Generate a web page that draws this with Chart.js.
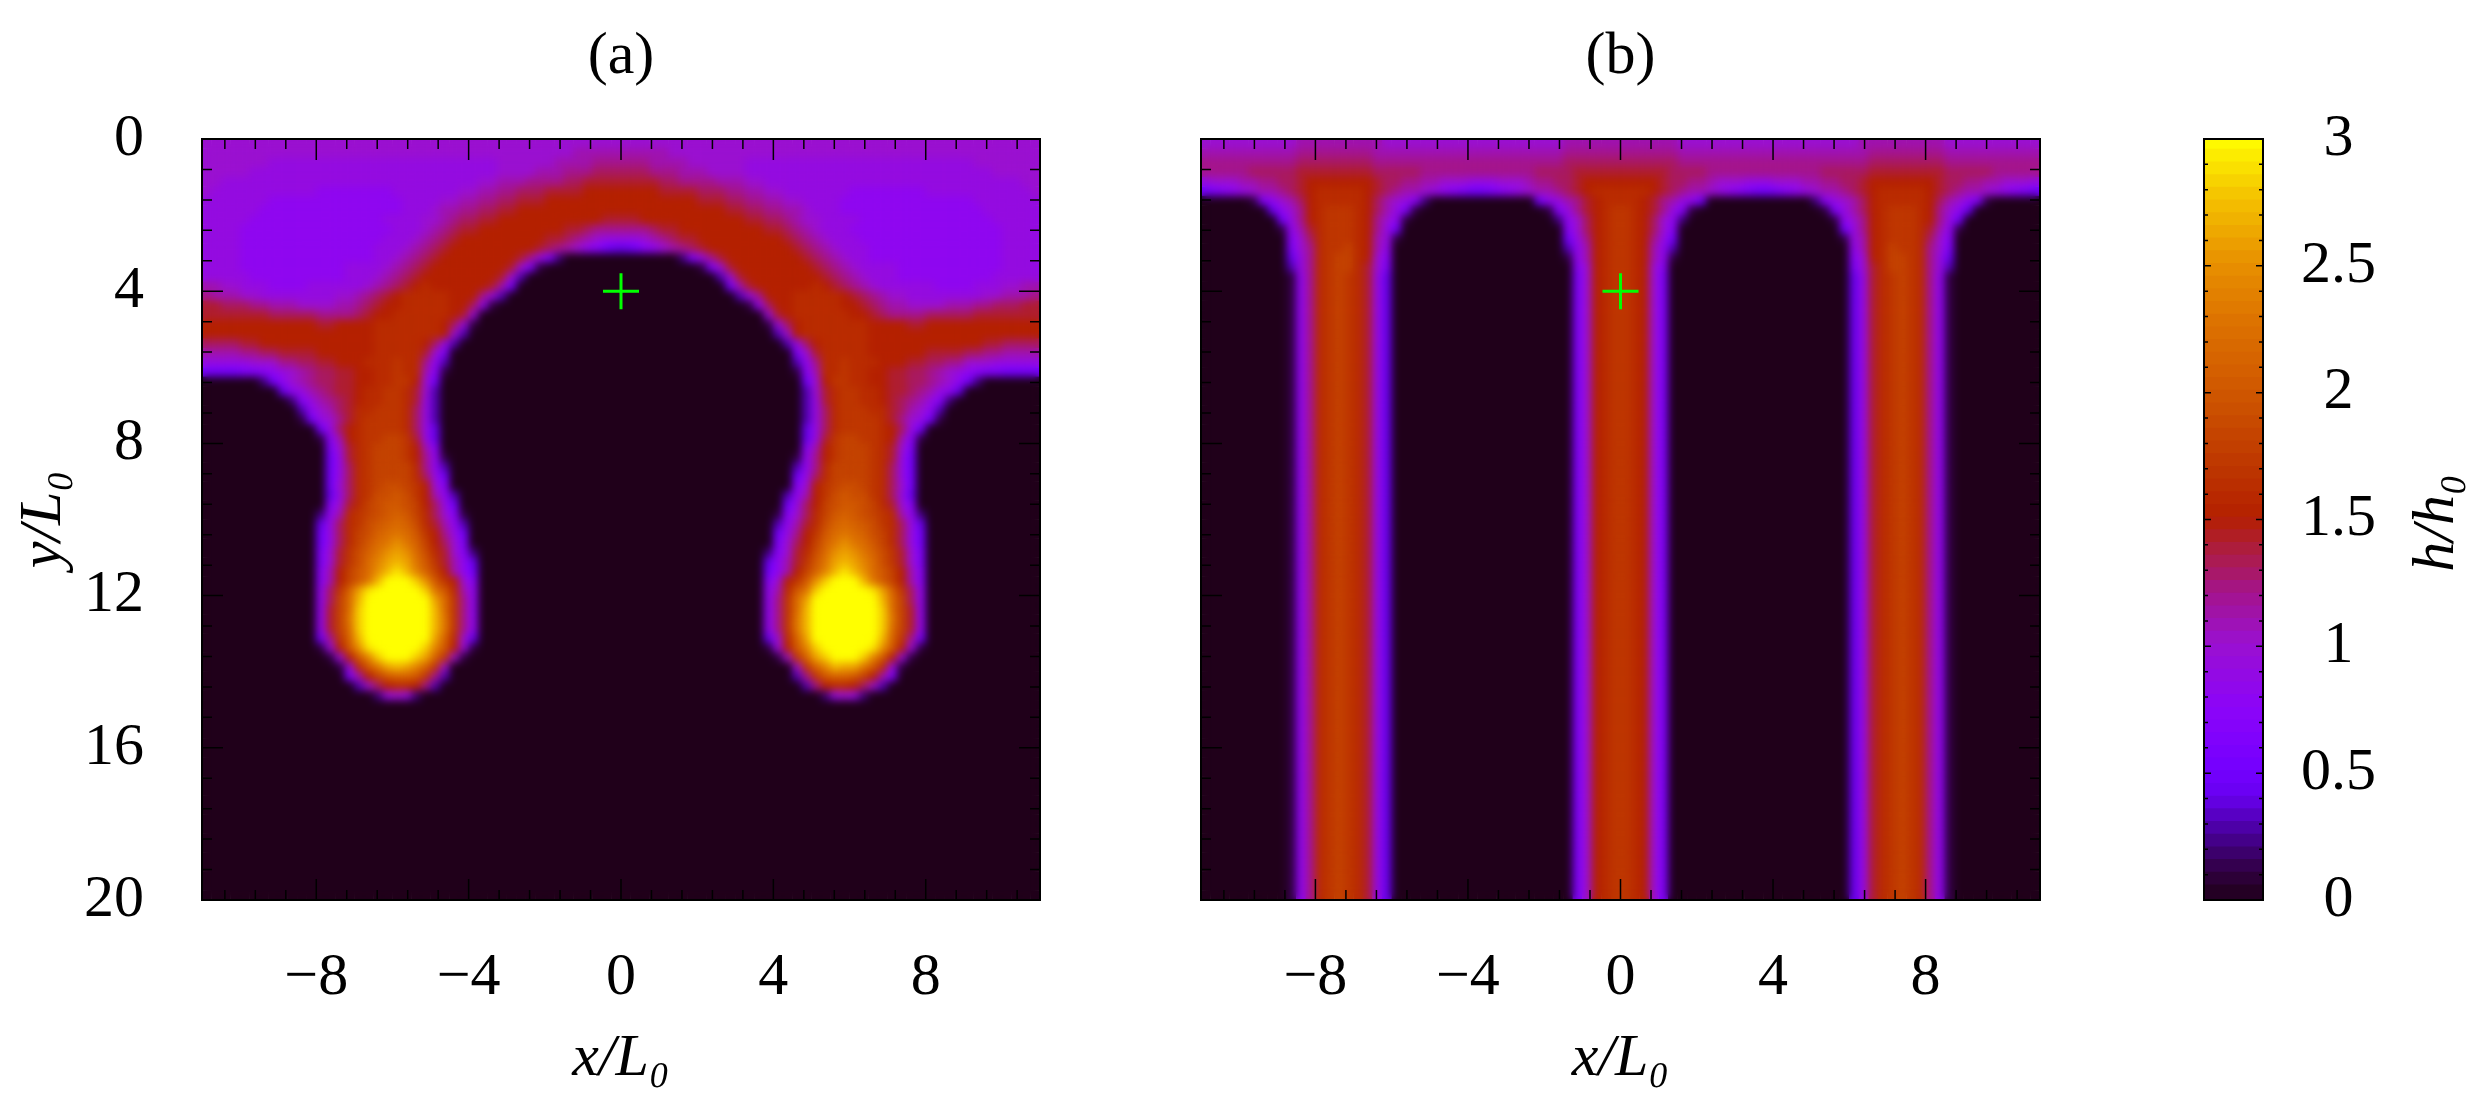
<!DOCTYPE html>
<html>
<head>
<meta charset="utf-8">
<title>h/h0</title>
<script src="https://cdn.jsdelivr.net/npm/chart.js@4"></script>
<style>
    html, body { margin: 0; padding: 0; background: #fff; overflow: hidden; }
    canvas { position: absolute; top: 0; }
</style>
</head>
<body>
<canvas id="panelA" width="1130" height="1105" style="left:0"></canvas>
<canvas id="panelB" width="1000" height="1105" style="left:1130px"></canvas>
<canvas id="colorBar" width="355" height="1105" style="left:2130px"></canvas>
<script>
// axis ticks
const xTickValues = [-8, -4, 0, 4, 8];
const xMinorTicks = [-10.4, -9.6, -8.8, -7.2, -6.4, -5.6, -4.8, -3.2, -2.4, -1.6, -0.8, 0.8, 1.6, 2.4, 3.2, 4.8, 5.6, 6.4, 7.2, 8.8, 9.6, 10.4];
const yTickValues = [0, 4, 8, 12, 16, 20];
const yMinorTicks = [0.8, 1.6, 2.4, 3.2, 4.8, 5.6, 6.4, 7.2, 8.8, 9.6, 10.4, 11.2, 12.8, 13.6, 14.4, 15.2, 16.8, 17.6, 18.4, 19.2];
const barTickValues = [0, 0.5, 1, 1.5, 2, 2.5, 3];
const barMinorTicks = [0.1, 0.2, 0.3, 0.4, 0.6, 0.7, 0.8, 0.9, 1.1, 1.2, 1.3, 1.4, 1.6, 1.7, 1.8, 1.9, 2.1, 2.2, 2.3, 2.4, 2.6, 2.7, 2.8, 2.9];
const barLevels = [0, 0.05, 0.1, 0.15, 0.2, 0.25, 0.3, 0.35, 0.4, 0.45, 0.5, 0.55, 0.6, 0.65, 0.7, 0.75, 0.8, 0.85, 0.9, 0.95,
    1, 1.05, 1.1, 1.15, 1.2, 1.25, 1.3, 1.35, 1.4, 1.45, 1.5, 1.55, 1.6, 1.65, 1.7, 1.75, 1.8, 1.85, 1.9, 1.95,
    2, 2.05, 2.1, 2.15, 2.2, 2.25, 2.3, 2.35, 2.4, 2.45, 2.5, 2.55, 2.6, 2.65, 2.7, 2.75, 2.8, 2.85, 2.9, 2.95];

// colour map, h value and colour
const paletteValues = [0, 0.1, 0.25, 0.4, 0.5, 0.75, 1, 1.2, 1.35, 1.5, 1.75, 2, 2.25, 2.5, 2.75, 3];
const paletteColors = ['#20001a', '#300040', '#480098', '#6800f0', '#7400ff', '#8c04f8', '#9a10d0', '#a4148c', '#ac1c48', '#b42000', '#c03c00', '#d05800', '#dc7000', '#e89000', '#f4c000', '#ffff00'];

// h/h0, one row per 0.25 of y, one character per 0.25 of x
// characters count in tenths: 0-9 then a=1.0, f=1.5, k=2.0, p=2.5, u=3.0
const emptyRow = '0000 0000 0000 0000 0000 0000 0000 0000 0000 0000 0000 0000 0000 0000 0000 0000 0000 0000 0000 0000 0000 0000';
const rowsA = [
    'aaaa aaaa aaaa aaaa aaaa aaaa aaaa aaaa aaaa aaaa aaaa aaaa aaaa aaaa aaaa aaaa aaaa aaaa aaaa aaaa aaaa aaaa',
    'aaaa aaaa aaaa aaaa aaaa aaaa aaaa aaaa aaaa aaab bbbb bbbb baaa aaaa aaaa aaaa aaaa aaaa aaaa aaaa aaaa aaaa',
    'aaaa aaa9 9999 9999 9999 9999 9999 999a aaaa abbb bccc cccb bbba aaaa a999 9999 9999 9999 9999 9999 9aaa aaaa',
    'aaaa a999 9999 9999 9999 9999 9999 999a aaab bbcc cddd dddc ccbb baaa a999 9999 9999 9999 9999 9999 999a aaaa',
    'aa99 9999 9999 9999 9999 9999 9999 9aab bbcc ccdd eeee eeee ddcc ccbb baa9 9999 9999 9999 9999 9999 9999 99aa',
    'a999 9999 9999 8888 8888 9999 999a abbc cddd eeee ffff ffff eeee dddc cbba a999 9999 8888 8888 9999 9999 999a',
    '9999 9998 8888 8888 8888 8999 9aab bccd deee ffff ffff ffff ffff eeed dccb baa9 9998 8888 8888 8888 8999 9999',
    '9999 9988 8888 8888 8888 8999 abbc cdde efff ffff ffff ffff ffff fffe eddc cbba 9998 8888 8888 8888 8899 9999',
    '9999 9888 8888 8888 8889 999a abcd deef ffff ffff ffee eeff ffff ffff feed dcba a999 9888 8888 8888 8889 9999',
    '9999 8888 8888 8888 8888 999a bcde efff ffff ffee dccc cccd eeff ffff fffe edcb a999 8888 8888 8888 8888 9999',
    '9999 8888 8888 8888 8889 99ab cdef ffff ffff eedc ba99 99ab cdee ffff ffff fedc ba99 9888 8888 8888 8888 9999',
    '9999 8888 8888 8888 8899 9abc deff ffff fffe dcba 8754 4578 abcd efff ffff ffed cba9 9988 8888 8888 8888 9999',
    '9999 8888 8888 8888 8899 abcd efff ffff fec9 6200 0000 0000 0026 9cef ffff fffe dcba 9988 8888 8888 8888 9999',
    '9999 8888 8888 8889 999a bcde ffff ffff ea61 0000 0000 0000 0000 16ae ffff ffff edcb a999 9888 8888 8888 9999',
    '9999 9888 8888 8889 99ab cdef ffff fffe a300 0000 0000 0000 0000 003a efff ffff fedc ba99 9888 8888 8889 9999',
    'bbaa 9998 8889 9999 9abc defg ffff ffeb 5000 0000 0000 0000 0000 0005 beff ffff gfed cba9 9999 9888 8999 aabb',
    'cbbb aa99 9999 99aa bcde fggg ggff fc93 0000 0000 0000 0000 0000 0000 39cf ffgg gggf edcb aa99 9999 99aa bbbc',
    'eedd dccb bbaa aabb cdef fggg ggff d810 0000 0000 0000 0000 0000 0000 018d ffgg gggf fedc bbaa aabb bccd ddee',
    'eeee eeed dddd cccc deff gggg ggfe 9000 0000 0000 0000 0000 0000 0000 0009 efgg gggg ffed cccc dddd deee eeee',
    'ffff ffff ffff eeff ffgg gggg gfd9 1000 0000 0000 0000 0000 0000 0000 0001 9dfg gggg ggff ffee ffff ffff ffff',
    'ffff ffff ffff ffff ffgg gggg gfa3 0000 0000 0000 0000 0000 0000 0000 0000 3afg gggg ggff ffff ffff ffff ffff',
    'dddd eeff ffff ffff ffgg gggf d930 0000 0000 0000 0000 0000 0000 0000 0000 039d fggg ggff ffff ffff ffee dddd',
    'bbbb ccdd eeee ffff ffgg ggge a600 0000 0000 0000 0000 0000 0000 0000 0000 006a eggg ggff ffff eeee ddcc bbbb',
    '9999 9aaa ccdd eeff fggg hggc 8300 0000 0000 0000 0000 0000 0000 0000 0000 0038 cggh gggf ffee ddcc aaa9 9999',
    '5555 6678 9abc ddee ffgg hggb 7100 0000 0000 0000 0000 0000 0000 0000 0000 0017 bggh ggff eedd cba9 8766 5555',
    '0000 0025 8abc ddee ffgg hhfa 5000 0000 0000 0000 0000 0000 0000 0000 0000 0005 afhh ggff eedd cba8 5200 0000',
    '0000 0000 489b cdee fggh hgea 3000 0000 0000 0000 0000 0000 0000 0000 0000 0003 aegh hggf eedc b984 0000 0000',
    '0000 0000 0279 bcde fggh hge9 3000 0000 0000 0000 0000 0000 0000 0000 0000 0003 9egh hggf edcb 9720 0000 0000',
    '0000 0000 0038 abde gghh hgd9 3000 0000 0000 0000 0000 0000 0000 0000 0000 0003 9dgh hhgg edba 8300 0000 0000',
    '0000 0000 0015 9ace ghhh hgd9 3000 0000 0000 0000 0000 0000 0000 0000 0000 0003 9dgh hhhg eca9 5100 0000 0000',
    '0000 0000 0000 59df ghhh hgd9 4000 0000 0000 0000 0000 0000 0000 0000 0000 0004 9dgh hhhg fd95 0000 0000 0000',
    '0000 0000 0000 17bf ghhi ihe9 4000 0000 0000 0000 0000 0000 0000 0000 0000 0004 9ehi ihhg fb71 0000 0000 0000',
    '0000 0000 0000 06ae ghii ihfb 7000 0000 0000 0000 0000 0000 0000 0000 0000 0007 bfhi iihg ea60 0000 0000 0000',
    '0000 0000 0000 059e ghii ihfc 8100 0000 0000 0000 0000 0000 0000 0000 0000 0018 cfhi iihg e950 0000 0000 0000',
    '0000 0000 0000 059d ghii iigc 8300 0000 0000 0000 0000 0000 0000 0000 0000 0038 cgii iihg d950 0000 0000 0000',
    '0000 0000 0000 059d ghii iigd 9500 0000 0000 0000 0000 0000 0000 0000 0000 0059 dgii iihg d950 0000 0000 0000',
    '0000 0000 0000 05ad ghij jihf a700 0000 0000 0000 0000 0000 0000 0000 0000 007a fhij jihg da50 0000 0000 0000',
    '0000 0000 0000 049d ghjj kjhf b830 0000 0000 0000 0000 0000 0000 0000 0000 038b fhjk jjhg d940 0000 0000 0000',
    '0000 0000 0000 07ae gijk kjif d950 0000 0000 0000 0000 0000 0000 0000 0000 059d fijk kjig ea70 0000 0000 0000',
    '0000 0000 0000 28bg hijk lkig da71 0000 0000 0000 0000 0000 0000 0000 0000 17ad gikl kjih gb82 0000 0000 0000',
    '0000 0000 0000 49dg hjkl mljg eb83 0000 0000 0000 0000 0000 0000 0000 0000 38be gjlm lkjh gd94 0000 0000 0000',
    '0000 0000 0000 59dg ijlm nmkh fc95 0000 0000 0000 0000 0000 0000 0000 0000 59cf hkmn mlji gd95 0000 0000 0000',
    '0000 0000 0000 59dg ikmn pnli fda6 0000 0000 0000 0000 0000 0000 0000 0000 6adf ilnp nmki gd95 0000 0000 0000',
    '0000 0000 0000 6aeh jlnp qpmj gea7 2000 0000 0000 0000 0000 0000 0000 0002 7aeg jmpq pnlj hea6 0000 0000 0000',
    '0000 0000 0000 6aeh jmoq rqnk heb8 4000 0000 0000 0000 0000 0000 0000 0004 8beh knqr qomj hea6 0000 0000 0000',
    '0000 0000 0000 7bfi kmpr trol ifb8 5000 0000 0000 0000 0000 0000 0000 0005 8bfi lort rpmk ifb7 0000 0000 0000',
    '0000 0000 0000 7bfi knru uusp khfa 7000 0000 0000 0000 0000 0000 0000 0007 afhk psuu urnk ifb7 0000 0000 0000',
    '0000 0000 0000 8dhl qtuu uuus nkgb 8000 0000 0000 0000 0000 0000 0000 0008 bgkn suuu uutq lhd8 0000 0000 0000',
    '0000 0000 0000 8dim ruuu uuuu qmhc 8000 0000 0000 0000 0000 0000 0000 0008 chmq uuuu uuur mid8 0000 0000 0000',
    '0000 0000 0000 8eim suuu uuuu rmhc 8000 0000 0000 0000 0000 0000 0000 0008 chmr uuuu uuus mie8 0000 0000 0000',
    '0000 0000 0000 8ein suuu uuuu rnhc 8000 0000 0000 0000 0000 0000 0000 0008 chnr uuuu uuus nie8 0000 0000 0000',
    '0000 0000 0000 8eim suuu uuuu rnhc 8000 0000 0000 0000 0000 0000 0000 0008 chnr uuuu uuus mie8 0000 0000 0000',
    '0000 0000 0000 5chl ruuu uuuu qlga 4000 0000 0000 0000 0000 0000 0000 0004 aglq uuuu uuur lhc5 0000 0000 0000',
    '0000 0000 0000 19fk ptuu uuus okf9 1000 0000 0000 0000 0000 0000 0000 0001 9fko suuu uutp kf91 0000 0000 0000',
    '0000 0000 0000 019f kosu uusq lha1 0000 0000 0000 0000 0000 0000 0000 0000 1ahl qsuu usok f910 0000 0000 0000',
    '0000 0000 0000 0019 gknq rqol ha00 0000 0000 0000 0000 0000 0000 0000 0000 00ah lorq qnkg 9100 0000 0000 0000',
    '0000 0000 0000 0006 bfik llkh c300 0000 0000 0000 0000 0000 0000 0000 0000 003c hkll kifb 6000 0000 0000 0000',
    '0000 0000 0000 0000 3adf ggfc 3000 0000 0000 0000 0000 0000 0000 0000 0000 0003 cfgg fda3 0000 0000 0000 0000',
    '0000 0000 0000 0000 0029 a920 0000 0000 0000 0000 0000 0000 0000 0000 0000 0000 029a 9200 0000 0000 0000 0000',
    ...Array(21).fill(emptyRow)
];

// panel (b) does not change along y below 3.5
const stemRow = '0000 0000 018c ghih ge94 0000 0000 0000 0000 0006 afgh hgfa 6000 0000 0000 0000 0000 49eg hihg c810 0000 0000';
const rowsB = [
    'aaaa aaaa aabb bbbb bbba aaaa aaaa aaaa aaaa aabb bbbb bbbb bbaa aaaa aaaa aaaa aaaa abbb bbbb bbaa aaaa aaaa',
    'bbbb bbbb bbcc cccc ccbb bbbb bbbb bbbb bbbb bbcc cccc cccc ccbb bbbb bbbb bbbb bbbb bbcc cccc ccbb bbbb bbbb',
    'cccc cccc ccdd dddd ddcc cccc cccc cccc cccc ccdd dddd dddd ddcc cccc cccc cccc cccc ccdd dddd ddcc cccc cccc',
    'cccc cddd ddee eeee eedd dddc cccc cccc cccd ddde eeee eeee eddd dccc cccc cccc cddd ddee eeee eedd dddc cccc',
    '9aaa bbcc ddef ffff ffed dccb baaa 999a aabc cdde ffff ffff eddc cbaa a999 aaab bccd deff ffff fedd ccbb aaa9',
    '5678 9abb cdef gggg gfed cbba 9876 5567 89ab bcde fggg gggf edcb ba98 7655 6789 abbc defg gggg fedc bba9 8765',
    '0000 0168 abdf gggg gfdb a972 0000 0000 0005 89bc efgg ggfe cb98 5000 0000 0000 279a bdfg gggg fdba 8610 0000',
    '0000 0004 8acf ghhh gfdb 9610 0000 0000 0000 179c efgh hgfe c971 0000 0000 0000 0169 bdfg hhhg fca8 4000 0000',
    '0000 0000 59cf ghhh gfca 8100 0000 0000 0000 028a dfgh hgfd a820 0000 0000 0000 0018 acfg hhhg fc95 0000 0000',
    '0000 0000 18be ghhh gfc9 5000 0000 0000 0000 007a dfgh hgfd a700 0000 0000 0000 0005 9cfg hhhg eb81 0000 0000',
    '0000 0000 07ad ghhh gfb9 1000 0000 0000 0000 0059 cfgh hgfc 9500 0000 0000 0000 0001 9bfg hhhg da70 0000 0000',
    '0000 0000 06ac ghhi gfb8 0000 0000 0000 0000 0038 bfgh hgfb 8300 0000 0000 0000 0000 8bfg ihhg ca60 0000 0000',
    '0000 0000 049c ghii gfa7 0000 0000 0000 0000 0018 bfgh hgfb 8100 0000 0000 0000 0000 7afg iihg c940 0000 0000',
    '0000 0000 039c ghii gea6 0000 0000 0000 0000 0007 afgh hgfa 7000 0000 0000 0000 0000 6aeg iihg c930 0000 0000',
    ...Array(66).fill(stemRow)
];

// the green + marks
const markerX = [0];
const markerY = [4];

const labelFont = { family: "'Liberation Serif', serif", size: 60, lineHeight: 1 };
const titleFont = { family: "'Liberation Serif', serif", size: 60, lineHeight: 1, style: 'italic' };

document.addEventListener('DOMContentLoaded', function() {
    createPanel('panelA', rowsA, '(a)', true);
    createPanel('panelB', rowsB, '(b)', false);
    createColorBar();
});

// colour for a value of h
function colorFor(value) {
    let i = 1;
    while (i < paletteValues.length - 1 && value > paletteValues[i]) i++;
    const t = Math.min(1, (value - paletteValues[i - 1]) / (paletteValues[i] - paletteValues[i - 1]));
    const a = paletteColors[i - 1];
    const b = paletteColors[i];
    let out = '#';
    for (let k = 1; k < 7; k += 2) {
        const start = parseInt(a.substr(k, 2), 16);
        const end = parseInt(b.substr(k, 2), 16);
        out += Math.round(start + (end - start) * t).toString(16).padStart(2, '0');
    }
    return out;
}

// turn the text rows into scatter points and their colours
function cellsFromRows(rows) {
    const points = [];
    const colors = [];
    rows.forEach((row, rowIndex) => {
        const cells = row.replace(/ /g, '');
        if (cells.length !== 88) console.error('row ' + rowIndex + ' has ' + cells.length + ' cells');
        for (let c = 0; c < cells.length; c++) {
            points.push({ x: -10.875 + 0.25 * c, y: 0.125 + 0.25 * rowIndex });
            colors.push(colorFor(parseInt(cells[c], 36) / 10));
        }
    });
    return { points, colors };
}

// inward ticks on all four sides plus the black frame
function drawFrame(chart, xMajor, xMinor, yMajor, yMinor, majorLength, minorLength, frameWidth) {
    const { ctx, chartArea, scales } = chart;
    ctx.save();
    ctx.strokeStyle = '#000';
    ctx.lineWidth = 1.5;
    ctx.beginPath();
    const addX = (v, len) => {
        const px = scales.x.getPixelForValue(v);
        ctx.moveTo(px, chartArea.top); ctx.lineTo(px, chartArea.top + len);
        ctx.moveTo(px, chartArea.bottom); ctx.lineTo(px, chartArea.bottom - len);
    };
    const addY = (v, len) => {
        const py = scales.y.getPixelForValue(v);
        ctx.moveTo(chartArea.left, py); ctx.lineTo(chartArea.left + len, py);
        ctx.moveTo(chartArea.right, py); ctx.lineTo(chartArea.right - len, py);
    };
    xMajor.forEach(v => addX(v, majorLength));
    xMinor.forEach(v => addX(v, minorLength));
    yMajor.forEach(v => addY(v, majorLength));
    yMinor.forEach(v => addY(v, minorLength));
    ctx.stroke();
    ctx.lineWidth = frameWidth;
    ctx.strokeRect(chartArea.left, chartArea.top, chartArea.right - chartArea.left, chartArea.bottom - chartArea.top);
    ctx.restore();
}

// one of the two map panels
function createPanel(canvasId, rows, title, showY) {
    const cells = cellsFromRows(rows);
    const ctx = document.getElementById(canvasId).getContext('2d');
    const canvasWidth = ctx.canvas.width;
    const plotLeft = showY ? 202 : 71;
    const plotRight = showY ? 1040 : 910;

    new Chart(ctx, {
        type: 'scatter',
        data: {
            datasets: [
                {
                    data: markerX.map((x, i) => ({ x: x, y: markerY[i] })),
                    pointStyle: 'cross',
                    pointRadius: 18,
                    pointBorderWidth: 3,
                    pointBorderColor: '#00ff00'
                },
                {
                    data: cells.points,
                    pointStyle: 'rect',
                    pointRadius: 7,
                    pointBorderWidth: 0,
                    pointBackgroundColor: cells.colors
                }
            ]
        },
        options: {
            responsive: false,
            devicePixelRatio: 1,
            animation: false,
            events: [],
            layout: {
                padding: { left: showY ? 0 : plotLeft, right: canvasWidth - plotRight, top: 27, bottom: 0 }
            },
            plugins: {
                legend: { display: false },
                tooltip: { enabled: false },
                title: {
                    display: true,
                    text: title,
                    fullSize: false,
                    color: '#000',
                    font: { family: labelFont.family, size: 60, lineHeight: 1, weight: 'normal' },
                    padding: { top: 0, bottom: 52 }
                }
            },
            scales: {
                x: {
                    type: 'linear',
                    min: -11,
                    max: 11,
                    grid: { display: false },
                    border: { display: false },
                    afterBuildTicks: axis => { axis.ticks = xTickValues.map(v => ({ value: v })); },
                    afterFit: axis => { axis.height = 205; },
                    ticks: {
                        color: '#000',
                        font: labelFont,
                        padding: 40,
                        maxRotation: 0,
                        autoSkip: false,
                        callback: v => String(v).replace('-', '\u2212')
                    },
                    title: {
                        display: true,
                        text: 'x/L\u2080',
                        color: '#000',
                        font: titleFont,
                        padding: { top: 0, bottom: 16 }
                    }
                },
                y: {
                    type: 'linear',
                    display: showY,
                    min: 0,
                    max: 20,
                    reverse: true,
                    grid: { display: false },
                    border: { display: false },
                    afterBuildTicks: axis => { axis.ticks = yTickValues.map(v => ({ value: v })); },
                    afterFit: axis => { axis.width = showY ? 202 : 0; },
                    ticks: {
                        color: '#000',
                        font: labelFont,
                        padding: 50,
                        autoSkip: false,
                        callback: v => String(v)
                    },
                    title: {
                        display: true,
                        text: 'y/L\u2080',
                        color: '#000',
                        font: titleFont,
                        padding: { top: 14, bottom: 0 }
                    }
                }
            }
        },
        plugins: [{
            id: 'smoothAndFrame',
            // the cells are soft in the picture, blur them as soon as they are drawn
            afterDatasetDraw(chart, args) {
                if (args.index !== 1) return;
                const { ctx: c, chartArea: a } = chart;
                c.save();
                c.beginPath();
                c.rect(a.left, a.top, a.right - a.left, a.bottom - a.top);
                c.clip();
                c.filter = 'blur(4px)';
                c.drawImage(chart.canvas, 0, 0);
                c.restore();
            },
            afterDraw(chart) {
                drawFrame(chart, xTickValues, xMinorTicks, yTickValues, yMinorTicks, 21, 10, 2);
            }
        }]
    });
}

// the colour bar on the right, floating bars from barLevels
function createColorBar() {
    const ctx = document.getElementById('colorBar').getContext('2d');
    const step = barLevels[1] - barLevels[0];

    new Chart(ctx, {
        type: 'bar',
        data: {
            labels: ['h'],
            datasets: barLevels.map(level => ({
                data: [[level, Math.min(3, level + step * 1.2)]],
                backgroundColor: colorFor(level + step / 2),
                borderWidth: 0,
                borderSkipped: false,
                grouped: false,
                barPercentage: 1,
                categoryPercentage: 1
            }))
        },
        options: {
            responsive: false,
            devicePixelRatio: 1,
            animation: false,
            events: [],
            layout: { padding: { left: 74, right: 0, top: 139, bottom: 205 } },
            plugins: {
                legend: { display: false },
                tooltip: { enabled: false }
            },
            scales: {
                x: { display: false },
                y: {
                    type: 'linear',
                    position: 'right',
                    min: 0,
                    max: 3,
                    grid: { display: false },
                    border: { display: false },
                    afterBuildTicks: axis => { axis.ticks = barTickValues.map(v => ({ value: v })); },
                    afterFit: axis => { axis.width = 222; },
                    ticks: {
                        color: '#000',
                        font: labelFont,
                        padding: 30,
                        crossAlign: 'center',
                        autoSkip: false,
                        callback: v => String(v)
                    }
                }
            }
        },
        plugins: [{
            id: 'barFrame',
            afterDraw(chart) {
                const { ctx: c, chartArea: a, scales } = chart;
                c.save();
                c.strokeStyle = '#000';
                c.lineWidth = 1.5;
                c.beginPath();
                const addTick = (v, len) => {
                    const py = scales.y.getPixelForValue(v);
                    c.moveTo(a.left, py); c.lineTo(a.left + len, py);
                    c.moveTo(a.right, py); c.lineTo(a.right - len, py);
                };
                barTickValues.forEach(v => addTick(v, 7));
                barMinorTicks.forEach(v => addTick(v, 4));
                c.stroke();
                c.lineWidth = 2;
                c.strokeRect(a.left, a.top, a.right - a.left, a.bottom - a.top);
                // h/h0 reads upwards, the right axis title would read downwards
                c.translate(307, 523);
                c.rotate(-Math.PI / 2);
                c.fillStyle = '#000';
                c.textAlign = 'center';
                c.textBaseline = 'middle';
                c.font = "italic 60px 'Liberation Serif', serif";
                c.fillText('h/h\u2080', 0, 0);
                c.restore();
            }
        }]
    });
}
</script>
</body>
</html>
